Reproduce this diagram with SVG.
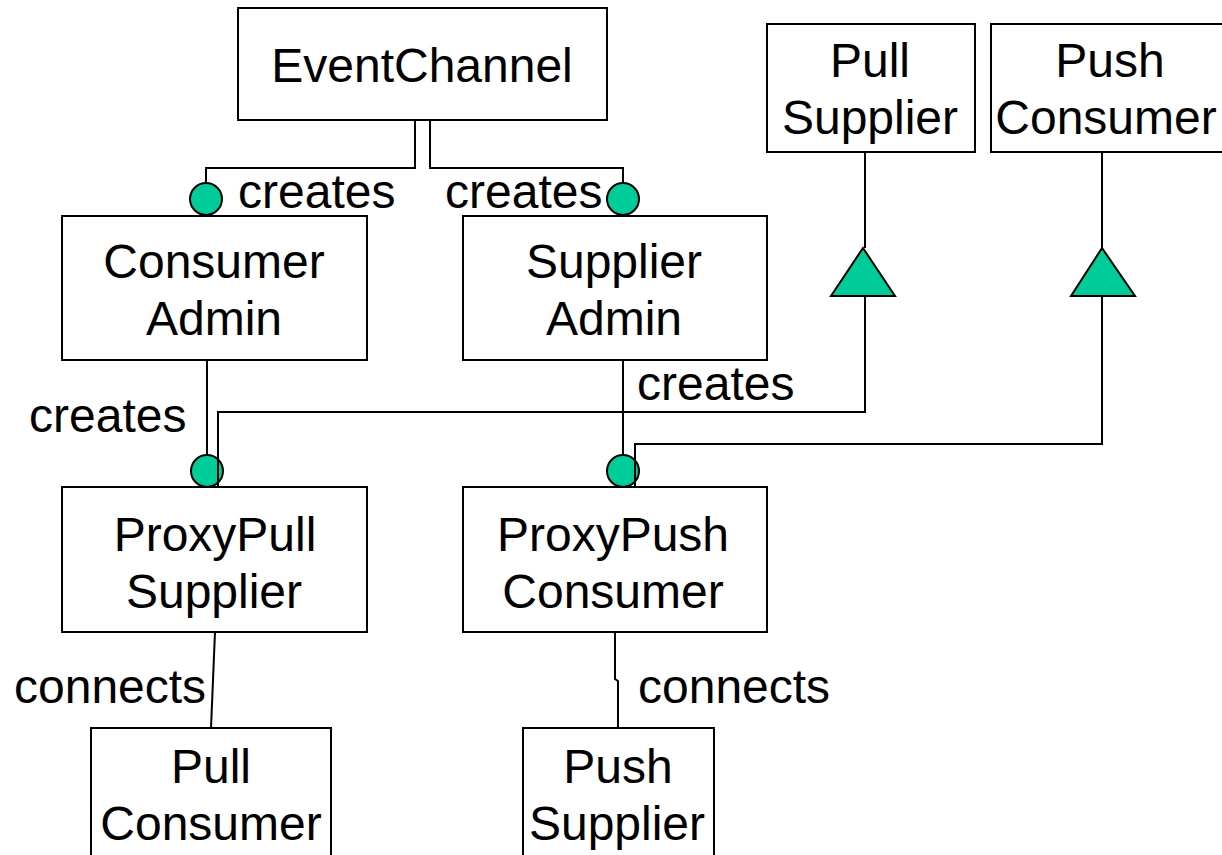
<svg xmlns="http://www.w3.org/2000/svg" width="1222" height="855" viewBox="0 0 1222 855">
<style>
.box{fill:#fff;stroke:#000;stroke-width:2}
.t{font-family:"Liberation Sans",Arial,sans-serif;font-size:48px;fill:#000}
.c{text-anchor:middle}
.ln{fill:none;stroke:#000;stroke-width:2}
.dot{fill:#00CC99;stroke:#000;stroke-width:2}
</style>
<rect width="1222" height="855" fill="#fff"/>
<g id="EventChannel"><rect class="box" x="238" y="8" width="369" height="112"/><text class="t c" x="422" y="82">EventChannel</text></g>
<g id="PullSupplier"><rect class="box" x="767" y="24" width="208" height="128"/><text class="t c" x="870" y="77">Pull</text><text class="t c" x="870" y="134">Supplier</text></g>
<g id="PushConsumer"><rect class="box" x="991" y="24" width="240" height="128"/><text class="t c" x="1110" y="77">Push</text><text class="t c" x="1106" y="134">Consumer</text></g>
<g id="ConsumerAdmin"><rect class="box" x="62" y="216" width="305" height="144"/><text class="t c" x="214" y="278">Consumer</text><text class="t c" x="214" y="335">Admin</text></g>
<g id="SupplierAdmin"><rect class="box" x="463" y="216" width="304" height="144"/><text class="t c" x="614" y="278">Supplier</text><text class="t c" x="614" y="335">Admin</text></g>
<g id="ProxyPullSupplier"><rect class="box" x="62" y="487" width="305" height="145"/><text class="t c" x="215" y="551">ProxyPull</text><text class="t c" x="214" y="608">Supplier</text></g>
<g id="ProxyPushConsumer"><rect class="box" x="463" y="487" width="304" height="145"/><text class="t c" x="613" y="551">ProxyPush</text><text class="t c" x="613" y="608">Consumer</text></g>
<g id="PullConsumer"><rect class="box" x="91" y="728" width="240" height="140"/><text class="t c" x="211" y="783">Pull</text><text class="t c" x="211" y="840">Consumer</text></g>
<g id="PushSupplier"><rect class="box" x="523" y="728" width="191" height="140"/><text class="t c" x="618" y="783">Push</text><text class="t c" x="617" y="840">Supplier</text></g>
<g id="connectors">
<polyline class="ln" points="415,120 415,168 206,168 206,184"/>
<polyline class="ln" points="430,120 430,168 623,168 623,184"/>
<circle class="dot" cx="206" cy="199" r="16"/>
<circle class="dot" cx="623" cy="199" r="16"/>
<line class="ln" x1="207" y1="360" x2="207" y2="456"/>
<line class="ln" x1="623" y1="360" x2="623" y2="456"/>
<circle class="dot" cx="207" cy="471" r="16"/>
<circle class="dot" cx="623" cy="471" r="16"/>
<polyline class="ln" points="218,486 218,412 865,412 865,296"/>
<polyline class="ln" points="635,486 635,444 1102,444 1102,296"/>
<line class="ln" x1="865" y1="152" x2="865" y2="248"/>
<line class="ln" x1="1102" y1="152" x2="1102" y2="248"/>
<polygon class="dot" points="863,248 831,296 895,296"/>
<polygon class="dot" points="1102,248 1071,296 1135,296"/>
<line class="ln" x1="215" y1="632" x2="211" y2="728"/>
<polyline class="ln" points="615,632 615,679 618,681 618,728"/>
<text class="t" x="238" y="208">creates</text>
<text class="t" x="445" y="208">creates</text>
<text class="t" x="29" y="432">creates</text>
<text class="t" x="637" y="400">creates</text>
<text class="t" x="14" y="703">connects</text>
<text class="t" x="638" y="703">connects</text>
</g>
</svg>
